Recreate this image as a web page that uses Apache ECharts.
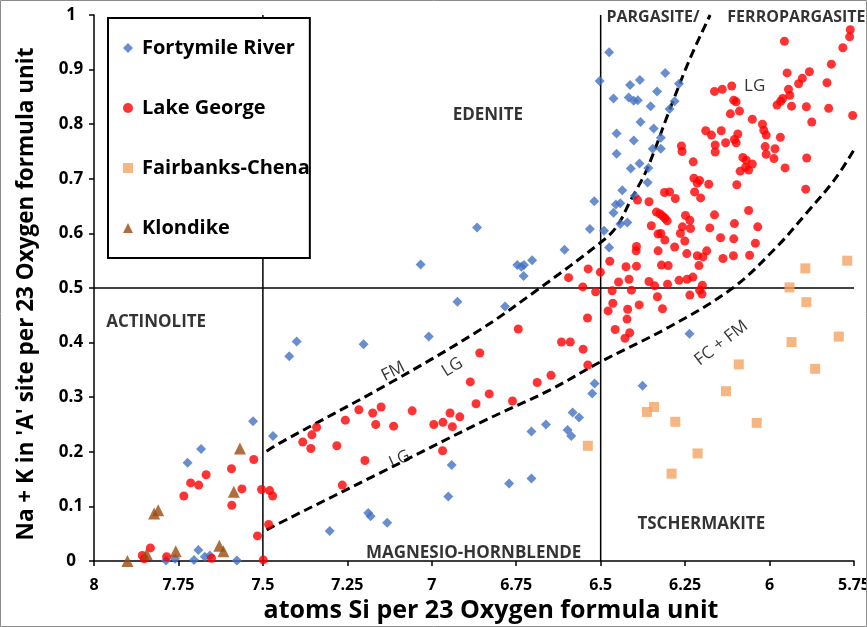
<!DOCTYPE html>
<html>
<head>
<meta charset="utf-8">
<script src="https://cdn.jsdelivr.net/npm/echarts@6/dist/echarts.min.js"></script>
<style>html,body{margin:0;padding:0;background:#fff}#c{width:867px;height:627px}</style>
</head>
<body>
<div id="c"></div>
<script>
// ---- data ----
const seriesNames = ['Fortymile River', 'Lake George', 'Fairbanks-Chena', 'Klondike'];
const xTickRange = [5.75, 8];
const yTickRange = [0, 1];
const xTitle = 'atoms Si per 23 Oxygen formula unit';
const yTitle = "Na + K in 'A' site per 23 Oxygen formula unit";

const fortymile = [
[7.529,0.256],[7.470,0.229],[7.683,0.205],[7.723,0.180],[7.691,0.020],[7.672,0.008],[7.657,0.010],[7.704,0.002],[7.787,0.001],[7.760,0.004],[7.577,0.001],
[7.400,0.402],[7.422,0.375],[7.202,0.397],[7.009,0.411],[6.866,0.611],[7.033,0.543],[6.747,0.542],[6.735,0.539],[6.727,0.542],[6.703,0.551],[6.728,0.522],[6.607,0.570],[6.532,0.608],[6.519,0.659],[6.924,0.475],[6.783,0.466],[6.518,0.325],[6.525,0.307],[6.941,0.176],[6.951,0.118],[7.188,0.088],[7.181,0.082],[7.132,0.070],[7.302,0.055],[6.583,0.272],[6.564,0.263],[6.662,0.250],[6.705,0.237],[6.598,0.240],[6.587,0.229],[6.771,0.142],[6.705,0.151],[6.376,0.321],[6.237,0.416],
[6.436,0.679],[6.399,0.669],[6.361,0.693],[6.455,0.653],[6.442,0.655],[6.462,0.638],[6.442,0.617],[6.421,0.620],[6.490,0.605],[6.475,0.574],
[6.475,0.932],[6.503,0.879],[6.462,0.847],[6.413,0.872],[6.384,0.881],[6.309,0.894],[6.333,0.860],[6.268,0.874],[6.417,0.849],[6.402,0.843],[6.390,0.844],[6.352,0.833],[6.281,0.842],[6.296,0.828],[6.382,0.804],[6.343,0.792],[6.453,0.783],[6.402,0.770],[6.322,0.775],[6.453,0.746],[6.346,0.755],[6.322,0.755],[6.385,0.728],[6.411,0.719],[6.359,0.720]
];

const lakeGeorge = [
[7.527,0.186],[7.593,0.169],[7.668,0.158],[7.714,0.143],[7.690,0.139],[7.734,0.119],[7.562,0.132],[7.592,0.102],[7.504,0.131],[7.480,0.129],[7.471,0.119],[7.483,0.067],[7.516,0.046],[7.833,0.024],[7.857,0.010],[7.851,0.004],[7.785,0.008],[7.652,0.005],[7.499,0.002],
[7.341,0.245],[7.355,0.231],[7.382,0.218],[7.358,0.206],[7.281,0.211],[7.256,0.258],[7.216,0.277],[7.175,0.271],[7.150,0.282],[7.166,0.250],[7.113,0.247],[7.198,0.184],[7.265,0.139],[7.058,0.275],[6.994,0.250],[6.967,0.254],[6.946,0.271],[6.939,0.246],[6.917,0.264],[6.968,0.202],[6.886,0.328],[6.869,0.288],[6.858,0.381],[6.830,0.306],[6.761,0.293],[6.744,0.425],[6.688,0.327],[6.647,0.340],[6.616,0.401],[6.590,0.401],[6.552,0.388],[6.538,0.359],[6.539,0.445],[6.595,0.519],[6.537,0.535],[6.501,0.529],[6.553,0.502],[6.515,0.493],
[6.473,0.549],[6.425,0.539],[6.394,0.540],[6.416,0.516],[6.447,0.511],[6.466,0.495],[6.409,0.496],[6.464,0.472],[6.478,0.458],[6.420,0.461],[6.386,0.469],[6.422,0.443],[6.457,0.424],[6.414,0.418],[6.428,0.408],[6.394,0.576],[6.395,0.568],[6.350,0.614],[6.330,0.599],[6.322,0.600],[6.310,0.588],[6.330,0.568],[6.320,0.542],[6.300,0.541],[6.357,0.512],[6.340,0.504],[6.302,0.507],[6.332,0.484],[6.317,0.462],[6.391,0.661],[6.357,0.658],[6.335,0.639],[6.325,0.636],[6.317,0.632],[6.310,0.628],[6.303,0.623],[6.311,0.675],[6.296,0.676],[6.279,0.664],[6.222,0.676],[6.204,0.665],[6.180,0.690],[6.097,0.689],[5.893,0.681],[6.249,0.633],[6.236,0.624],[6.163,0.634],[6.062,0.642],[6.104,0.618],[6.035,0.612],[6.258,0.612],[6.234,0.609],[6.177,0.610],[6.264,0.600],[6.251,0.586],[6.145,0.592],[6.106,0.590],[6.042,0.582],[6.281,0.575],[6.245,0.563],[6.186,0.568],[6.214,0.559],[6.197,0.557],[6.138,0.554],[6.107,0.559],[6.059,0.560],[6.209,0.541],[6.268,0.514],[6.244,0.516],[6.227,0.520],[6.199,0.505],[6.207,0.496],[6.236,0.487],[6.200,0.489],
[5.761,0.973],[5.763,0.960],[5.783,0.940],[5.956,0.952],[5.817,0.910],[5.948,0.894],[5.882,0.896],[5.903,0.884],[5.914,0.874],[5.830,0.876],[5.944,0.864],[5.940,0.853],[5.961,0.847],[5.967,0.842],[5.978,0.835],[5.935,0.833],[5.891,0.832],[5.825,0.829],[5.754,0.816],[5.875,0.804],[6.163,0.860],[6.140,0.864],[6.112,0.870],[6.106,0.844],[6.099,0.841],[6.089,0.824],[6.116,0.819],[6.051,0.809],[6.021,0.800],[6.017,0.789],[6.010,0.780],[5.968,0.776],[6.094,0.782],[6.104,0.772],[6.143,0.788],[6.172,0.780],[6.189,0.788],[6.161,0.762],[6.161,0.749],[6.130,0.766],[6.099,0.766],[6.013,0.759],[6.010,0.745],[5.984,0.755],[5.987,0.737],[5.890,0.738],[5.954,0.720],[6.079,0.739],[6.069,0.734],[6.051,0.727],[6.071,0.721],[6.087,0.714],[6.062,0.716],[6.261,0.760],[6.259,0.750],[6.226,0.731],[6.224,0.701],[6.207,0.697],[6.214,0.692]
];

const fairbanks = [
[5.770,0.550],[5.894,0.536],[5.941,0.501],[5.891,0.474],[5.795,0.411],[5.935,0.401],[6.091,0.360],[5.865,0.352],[6.129,0.311],[6.342,0.282],[6.363,0.273],[6.279,0.255],[6.038,0.253],[6.213,0.197],[6.290,0.160],[6.538,0.211]
];

const klondike = [
[7.901,0.000],[7.844,0.013],[7.822,0.087],[7.810,0.093],[7.758,0.018],[7.629,0.028],[7.617,0.018],[7.586,0.127],[7.568,0.206]
];

// boundary curves (dashed)
const upperCurve = [[7.489,0.201],[7.45,0.216],[7.124,0.326],[6.858,0.423],[6.68,0.5],[6.503,0.582],[6.453,0.612],[6.411,0.661],[6.364,0.716],[6.296,0.826],[6.237,0.918],[6.176,1.0]];
const lowerCurve = [[7.489,0.057],[7.42,0.079],[7.154,0.161],[6.858,0.253],[6.651,0.313],[6.503,0.364],[6.296,0.429],[6.109,0.5],[5.979,0.575],[5.891,0.637],[5.808,0.698],[5.75,0.753]];

// field boundaries (solid)
const hBoundary = [[8,0.5],[5.75,0.5]];
const v75Boundary = [[7.5,0],[7.5,1]];
const v65Boundary = [[6.5,0],[6.5,1]];

// annotations
const regionNames = ['ACTINOLITE','EDENITE','MAGNESIO-HORNBLENDE','TSCHERMAKITE'];
const regionPos = [[7.816,0.438],[6.834,0.817],[6.876,0.014],[6.202,0.068]];
const topNames = ['PARGASITE/','FERROPARGASITE'];
const topPos = [[6.483,0.996],[6.125,0.996]];
const curveNames = ['FM','LG','LG','FC + FM','LG'];
const curvePos = [[7.114,0.347],[6.939,0.355],[7.095,0.186],[6.143,0.399],[6.044,0.870]];

// ---- chart ----
const FONT = "'Open Sans', sans-serif";
const chart = echarts.init(document.getElementById('c'), null, {renderer:'canvas'});
const curveRot = [27, 32, 24, 38, 0];

function dashed(data){
  return {type:'line', data:data, symbol:'none', smooth:0.35, silent:true, z:1,
    lineStyle:{color:'#000', width:3, type:[9,5]}};
}
function solid(data){
  return {type:'line', data:data, symbol:'none', silent:true, z:1,
    lineStyle:{color:'#000', width:1.5}};
}
function textSeries(names, pos, labelFn){
  return {type:'scatter', silent:true, symbolSize:0, clip:false, z:7,
    data:names.map((n,i)=>({value:pos[i], name:n, label:Object.assign({show:true, position:'inside', formatter:n,
      color:'#000', fontFamily:FONT, verticalAlign:'middle'}, labelFn(i))}))};
}

const option = {
  animation:false,
  backgroundColor:'#fff',
  textStyle:{fontFamily:FONT},
  grid:{left:94, right:13, top:15, bottom:66, outerBoundsMode:'none', containLabel:false},
  xAxis:{type:'value', min:xTickRange[0], max:xTickRange[1], interval:0.25, inverse:true,
    name:xTitle, nameLocation:'middle', nameGap:33,
    nameTextStyle:{fontSize:25, fontWeight:'bold', color:'#000', fontFamily:FONT, padding:[0,0,0,34]},
    axisLine:{onZero:false, lineStyle:{color:'#000', width:1.5}},
    axisTick:{show:true, length:5, lineStyle:{color:'#000', width:1.5}},
    axisLabel:{fontSize:16, fontWeight:'bold', color:'#000', margin:16, fontFamily:FONT, hideOverlap:false},
    splitLine:{show:false}},
  yAxis:{type:'value', min:yTickRange[0], max:yTickRange[1], interval:0.1,
    name:yTitle, nameLocation:'middle', nameGap:56,
    nameTextStyle:{fontSize:22.5, fontWeight:'bold', color:'#000', fontFamily:FONT, padding:[0,12,0,0]},
    axisLine:{onZero:false, lineStyle:{color:'#000', width:1.5}},
    axisTick:{show:true, length:5, lineStyle:{color:'#000', width:1.5}},
    axisLabel:{fontSize:17, fontWeight:'bold', color:'#000', margin:23, align:'center', fontFamily:FONT},
    splitLine:{show:false}},
  legend:{data:seriesNames, orient:'vertical', left:108, top:18,
    padding:[20,0,20,15], itemGap:40, itemWidth:10, itemHeight:10,
    backgroundColor:'#fff', borderColor:'#000', borderWidth:2, z:10,
    textStyle:{fontSize:20, fontWeight:'bold', color:'#000', lineHeight:20, padding:[0,0,0,4], fontFamily:FONT}},
  graphic:[{type:'rect', shape:{x:0.5, y:0.5, width:866, height:626}, style:{fill:null, stroke:'#8c8c8c', lineWidth:1}, silent:true, z:100}],
  series:[
    solid(hBoundary), solid(v75Boundary), solid(v65Boundary),
    dashed(upperCurve), dashed(lowerCurve),
    {name:seriesNames[0], type:'scatter', data:fortymile, symbol:'diamond', symbolSize:10, clip:false, z:3,
      itemStyle:{color:'#4472C4'}},
    {name:seriesNames[1], type:'scatter', data:lakeGeorge, symbol:'circle', symbolSize:9, clip:false, z:4,
      itemStyle:{color:'#FF0000'}},
    {name:seriesNames[2], type:'scatter', data:fairbanks, symbol:'rect', symbolSize:10, clip:false, z:5,
      itemStyle:{color:'#F4A262'}},
    {name:seriesNames[3], type:'scatter', data:klondike, symbol:'triangle', symbolSize:12, clip:false, z:6,
      itemStyle:{color:'#9C4A0F'}},
    textSeries(regionNames, regionPos, ()=>({fontSize:17, fontWeight:'bold', align:'center'})),
    textSeries(topNames, topPos, ()=>({fontSize:16, fontWeight:'bold', align:'left'})),
    textSeries(curveNames, curvePos, (i)=>({fontSize:17, rotate:curveRot[i], align:'center'}))
  ]
};
chart.setOption(option);
</script>
</body>
</html>
